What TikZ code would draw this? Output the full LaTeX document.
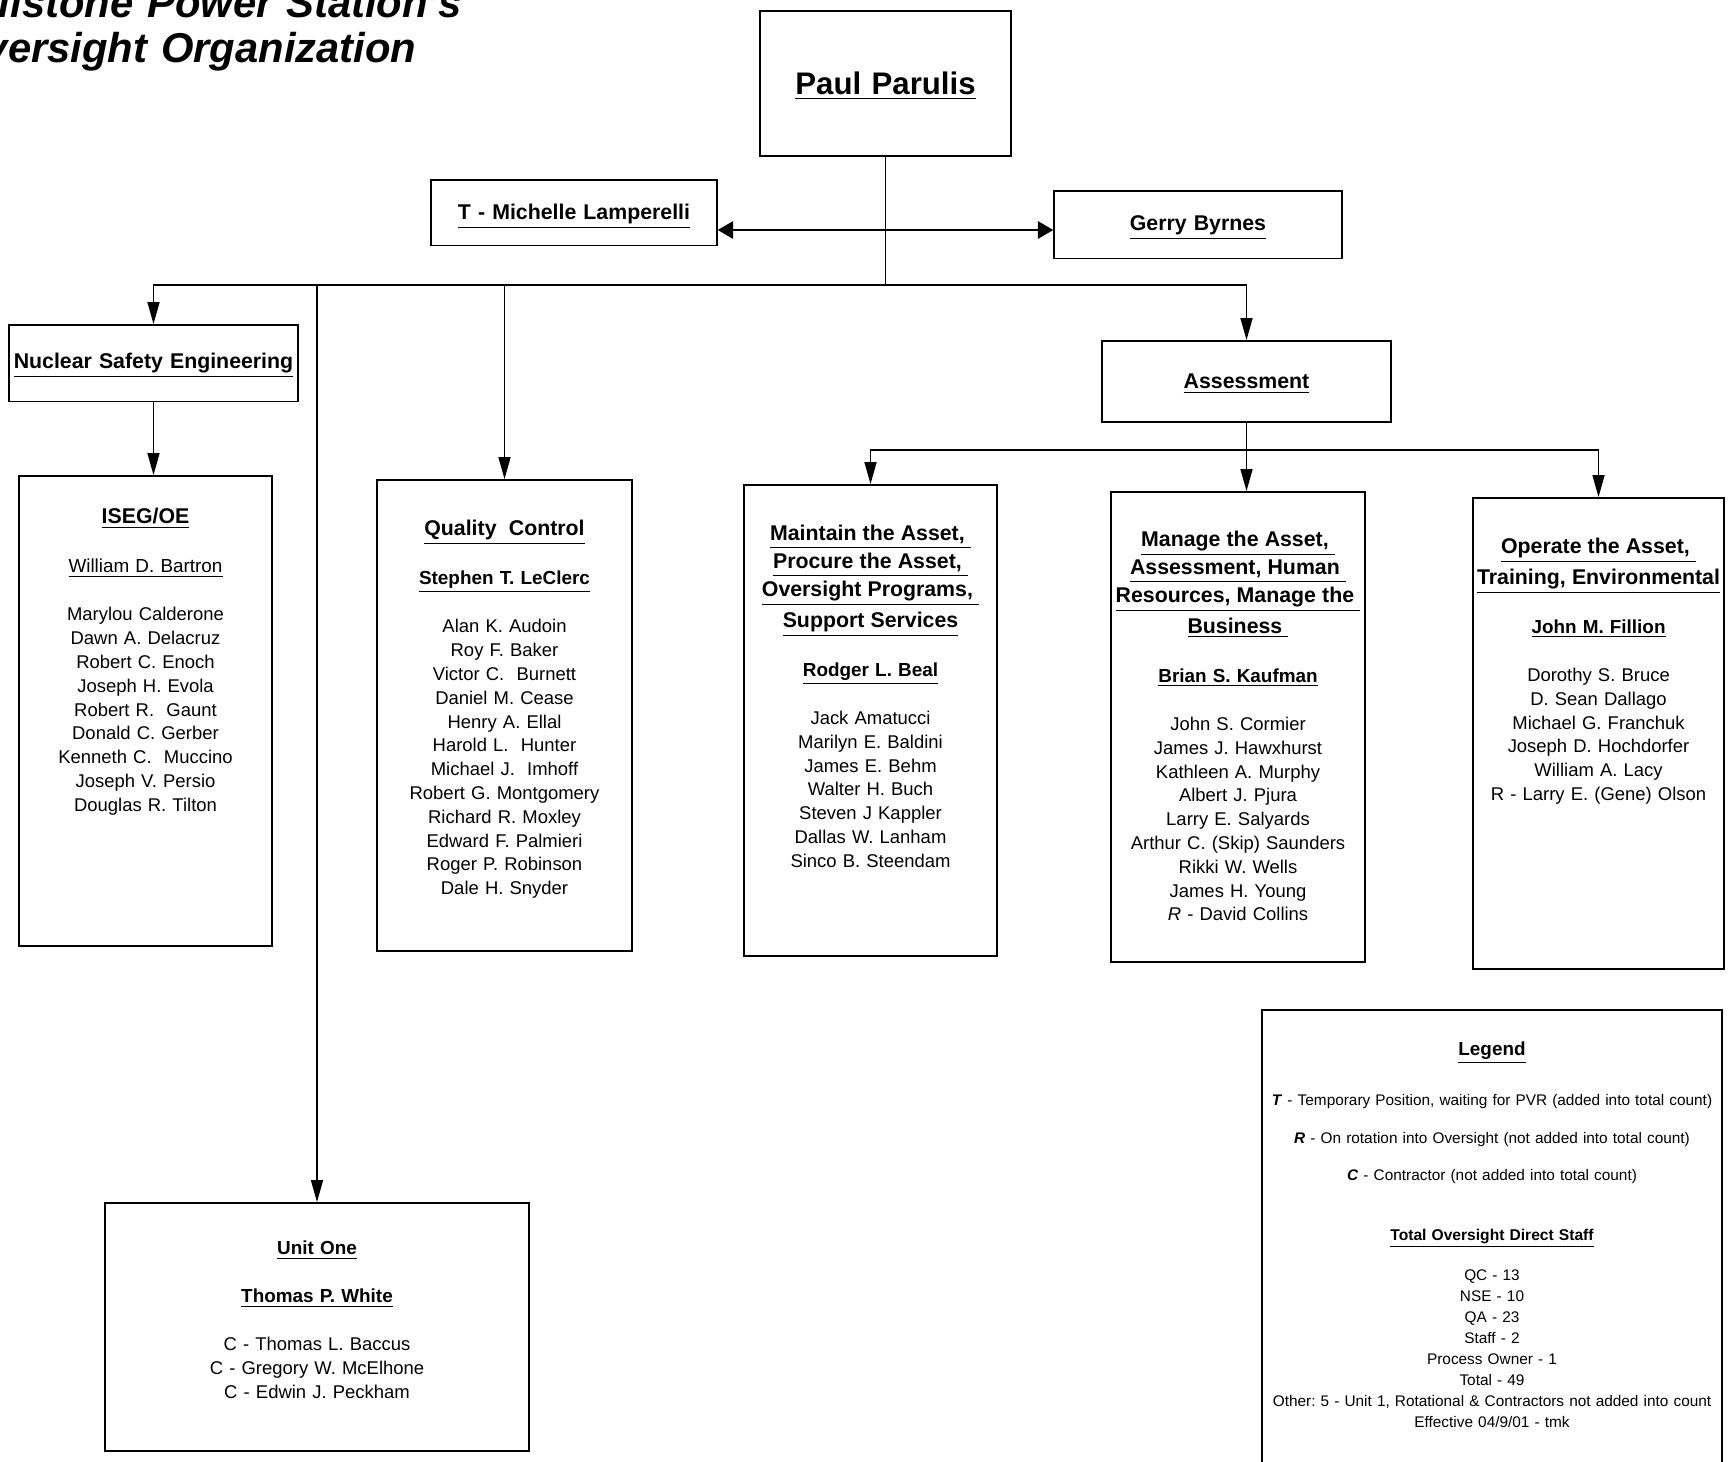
\documentclass[tikz,border=0pt]{standalone}
\usepackage{fontspec}
\setmainfont{Liberation Sans}
\usetikzlibrary{arrows.meta, calc}
\frenchspacing

\newcommand{\charttitle}{\fontsize{19}{20.9}\selectfont\bfseries\itshape}
\newcommand{\bossfont}{\fontsize{14.2}{17}\selectfont\bfseries}
\newcommand{\deptfont}{\fontsize{9.7}{12.75}\selectfont\bfseries}
\newcommand{\leadfont}{\fontsize{8.6}{10.84}\selectfont\bfseries}
\newcommand{\stafffont}{\fontsize{8.4}{10.84}\selectfont}
\newcommand{\notefont}{\fontsize{7}{9.56}\selectfont}

\tikzset{
  orgbox/.style={draw, line width=0.7pt, anchor=north, inner sep=0pt, align=center},
  wire/.style={line width=0.6pt},
  feed/.style={wire, -{Triangle[length=10pt, width=5.5pt]}},
  twoway/.style={wire, {Triangle[length=7pt, width=8pt]}-{Triangle[length=7pt, width=8pt]}}
}

\begin{document}
\begin{tikzpicture}[x=0.16mm, y=-0.16mm]
    % Page frame
    \useasboundingbox (0,0) rectangle (1733,1461);
    \clip (0,0) rectangle (1733,1461);

    % Title (runs off the left edge)
    \node[anchor=base west, text width=260pt, align=left, inner sep=0pt, font=\charttitle] (title) at (-48,17)
        {Millstone Power Station's\\Oversight Organization};

    % Top of the chart
    \node[orgbox, text width=114.3pt, text height=38.2pt, text depth=27.8pt, font=\bossfont] (paul) at (885.5,10) {\underline{Paul Parulis}};
    \node[orgbox, text width=130.2pt, text height=18.2pt, text depth=11.8pt, font=\deptfont] (michelle) at (574,179) {\underline{T - Michelle Lamperelli}};
    \node[orgbox, text width=131.1pt, text height=18.2pt, text depth=12.7pt, font=\deptfont] (gerry) at (1198,190) {\underline{Gerry Byrnes}};
    \node[orgbox, text width=131.6pt, text height=20pt, text depth=15pt, font=\deptfont] (nse) at (153.5,324) {\underline{Nuclear Safety Engineering}};
    \node[orgbox, text width=131.6pt, text height=21.9pt, text depth=15pt, font=\deptfont] (assess) at (1246.5,340) {\underline{Assessment}};

    % Staff boxes
    \node[orgbox, text width=115.2pt, text height=21.9pt, text depth=192.1pt, font=\stafffont] (iseg) at (145.5,475) {
        {\deptfont\underline{ISEG/OE}}\\[11.5pt]
        {\fontsize{8.6}{10.84}\selectfont\underline{William D. Bartron}}\\[11pt]
        Marylou Calderone\\ Dawn A. Delacruz\\ Robert C. Enoch\\ Joseph H. Evola\\
        Robert R.~ Gaunt\\ Donald C. Gerber\\ Kenneth C.~ Muccino\\ Joseph V. Persio\\
        Douglas R. Tilton};
    \node[orgbox, text width=116.1pt, text height=25.5pt, text depth=189pt, font=\stafffont] (qc) at (504.5,479) {
        {\deptfont\underline{Quality~ Control}}\\[11.5pt]
        {\leadfont\underline{Stephen T. LeClerc}}\\[11pt]
        Alan K. Audoin\\ Roy F. Baker\\ Victor C.~ Burnett\\ Daniel M. Cease\\
        Henry A. Ellal\\ Harold L.~ Hunter\\ Michael J.~ Imhoff\\ Robert G. Montgomery\\
        Richard R. Moxley\\ Edward F. Palmieri\\ Roger P. Robinson\\ Dale H. Snyder};
    \node[orgbox, text width=115.2pt, text height=25.5pt, text depth=189pt, font=\stafffont] (maint) at (870.5,484) {
        {\deptfont\underline{Maintain the Asset,\ }}\\[1.9pt]
        {\deptfont\underline{Procure the Asset,\ }}\\[1.9pt]
        {\deptfont\underline{Oversight Programs,\ }}\\[1.9pt]
        {\deptfont\underline{Support Services}}\\[11.5pt]
        {\leadfont\underline{Rodger L. Beal}}\\[11pt]
        Jack Amatucci\\ Marilyn E. Baldini\\ James E. Behm\\ Walter H. Buch\\
        Steven J Kappler\\ Dallas W. Lanham\\ Sinco B. Steendam};
    \node[orgbox, text width=115.6pt, text height=25pt, text depth=189pt, font=\stafffont] (manage) at (1238,491) {
        {\deptfont\underline{Manage the Asset,\ }}\\[1.9pt]
        {\deptfont\underline{Assessment, Human\ }}\\[1.9pt]
        {\deptfont\underline{Resources, Manage the\ }}\\[1.9pt]
        {\deptfont\underline{Business\ }}\\[11.5pt]
        {\leadfont\underline{Brian S. Kaufman}}\\[11pt]
        John S. Cormier\\ James J. Hawxhurst\\ Kathleen A. Murphy\\ Albert J. Pjura\\
        Larry E. Salyards\\ Arthur C. (Skip) Saunders\\ Rikki W. Wells\\ James H. Young\\
        \textit{R} - David Collins};
    \node[orgbox, text width=114.3pt, text height=25.5pt, text depth=189pt, font=\stafffont] (operate) at (1598.5,497) {
        {\deptfont\underline{Operate the Asset,\ }}\\[1.9pt]
        {\deptfont\underline{Training, Environmental}}\\[11.5pt]
        {\leadfont\underline{John M. Fillion}}\\[11pt]
        Dorothy S. Bruce\\ D. Sean Dallago\\ Michael G. Franchuk\\ Joseph D. Hochdorfer\\
        William A. Lacy\\ R - Larry E. (Gene) Olson};
    \node[orgbox, text width=193pt, text height=23.7pt, text depth=89.2pt, font=\stafffont] (unitone) at (317,1202) {
        {\leadfont\underline{Unit One}}\\[11pt]
        {\leadfont\underline{Thomas P. White}}\\[11pt]
        C - Thomas L. Baccus\\ C - Gregory W. McElhone\\ C - Edwin J. Peckham};

    % Legend (runs off the bottom edge)
    \node[orgbox, text width=209.4pt, text height=20.9pt, text depth=215pt, font=\notefont] (legend) at (1492,1009) {
        {\fontsize{8.6}{10}\selectfont\bfseries\underline{Legend}}\\[13.2pt]
        \textbf{\textit{T}} - Temporary Position, waiting for PVR (added into total count)\\[7.7pt]
        \textbf{\textit{R}} - On rotation into Oversight (not added into total count)\\[7.2pt]
        \textbf{\textit{C}} - Contractor (not added into total count)\\[17.7pt]
        {\fontsize{7.1}{9.56}\selectfont\bfseries\underline{Total Oversight Direct Staff}}\\[8.6pt]
        QC - 13\\ NSE - 10\\ QA - 23\\ Staff - 2\\ Process Owner - 1\\ Total - 49\\
        Other: 5 - Unit 1, Rotational \& Contractors not added into count\\
        Effective 04/9/01 - tmk};

    % Connectors
    \coordinate (link) at (paul.south |- 0,230);
    \coordinate (bus) at (paul.south |- 0,285);
    \coordinate (sub) at (assess.south |- 0,450);

    \draw[wire] (paul.south) -- (bus);
    \draw[twoway] (michelle.east |- link) -- (gerry.west |- link);
    \draw[feed] (bus) -| (nse.north);
    \draw[feed] (bus) -| (assess.north);
    \draw[feed] (bus -| qc.north) -- (qc.north);
    \draw[feed] (bus -| unitone.north) -- (unitone.north);
    \draw[feed] (nse.south) -- (nse.south |- iseg.north);
    \draw[wire] (assess.south) -- (sub);
    \draw[feed] (sub) -| (maint.north);
    \draw[feed] (sub) -- (sub |- manage.north);
    \draw[feed] (sub) -| (operate.north);
\end{tikzpicture}
\end{document}
